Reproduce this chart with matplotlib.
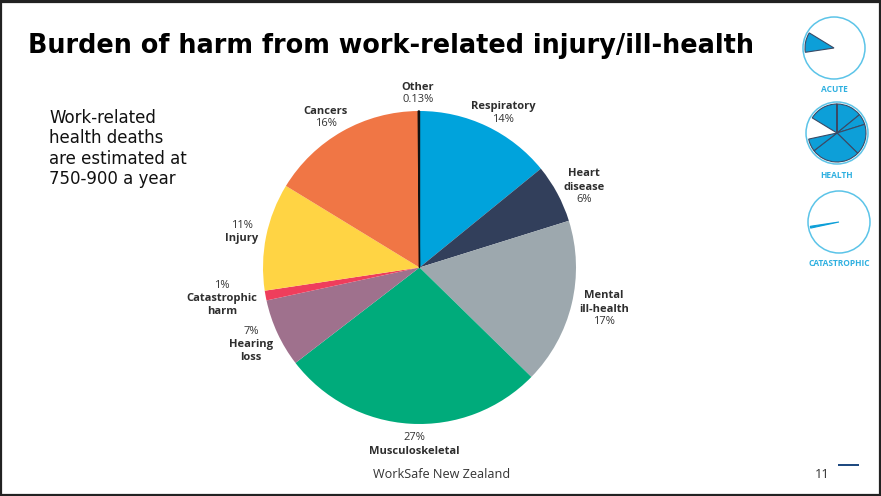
import matplotlib
matplotlib.use("Agg")
from matplotlib import pyplot as plt
from matplotlib.patches import Rectangle, Circle

W, H = 881, 496

# Shares as printed on the chart, clockwise from 12 o'clock
categories = ["Respiratory", "Heart disease", "Mental ill-health", "Musculoskeletal",
              "Hearing loss", "Catastrophic harm", "Injury", "Cancers", "Other"]
shares = [14, 6, 17, 27, 7, 1, 11, 16, 0.13]
colors = ["#00a3dc", "#323f5b", "#9da8ae", "#00ab7b", "#9f718d",
          "#ef3e5c", "#ffd444", "#f07645", "#111111"]

# Which categories each small icon fills in
icon_names = ["ACUTE", "HEALTH", "CATASTROPHIC"]
icon_fill = [["Injury"],
             ["Respiratory", "Heart disease", "Mental ill-health", "Musculoskeletal",
              "Hearing loss", "Cancers", "Other"],
             ["Catastrophic harm"]]

title = "Burden of harm from work-related injury/ill-health"
note = ["Work-related", "health deaths", "are estimated at", "750-900 a year"]
footer = "WorkSafe New Zealand"
page = "11"


def px_axes(fig, cx, cy, r):
    # axes square around a pixel centre
    return fig.add_axes([(cx - r) / W, 1 - (cy + r) / H, 2 * r / W, 2 * r / H])


fig = plt.figure(figsize=(W / 100, H / 100), dpi=100, facecolor="white")
bg = fig.add_axes([0, 0, 1, 1])
bg.set_xlim(0, W)
bg.set_ylim(H, 0)
bg.axis("off")

# slide frame, the top edge is heavier
bg.add_patch(Rectangle((0.5, 1.5), W - 1.5, H - 3, fill=False, edgecolor="#222222", linewidth=1.6))
bg.add_patch(Rectangle((0, 0), W, 3, facecolor="#222222", edgecolor="none"))

# main pie
ax = px_axes(fig, 419.5, 267.5, 156.5)
main_wedges, _ = ax.pie(shares, colors=colors, startangle=90, counterclock=False, radius=1,
                        wedgeprops={"linewidth": 0})
# the Other sliver is too thin to show without an edge
main_wedges[-1].set_edgecolor("#111111")
main_wedges[-1].set_linewidth(1.0)
ax.set_xlim(-1, 1)
ax.set_ylim(-1, 1)

bg.text(28, 46, title, fontsize=18.4, fontweight="bold", family="DejaVu Sans",
        color="black", va="center", ha="left")

for i, line in enumerate(note):
    bg.text(49, 118 + i * 20.3, line, fontsize=12, family="DejaVu Sans",
            color="#111111", va="center", ha="left")

LABEL = {"family": "Open Sans", "fontsize": 8, "color": "#333333", "ha": "center", "va": "center"}
BOLD = dict(LABEL, fontweight="bold", color="#2e2e2e")

labels = [
    (418, 87, "Other", True), (418, 100, "0.13%", False),
    (503, 106, "Respiratory", True), (503, 119, "14%", False),
    (584, 174, "Heart", True), (584, 187, "disease", True), (584, 200, "6%", False),
    (604, 296, "Mental", True), (604, 309, "ill-health", True), (604, 322, "17%", False),
    (414, 438, "27%", False), (414, 451, "Musculoskeletal", True),
    (251, 331, "7%", False), (251, 344, "Hearing", True), (251, 357, "loss", True),
    (222, 286, "1%", False), (222, 299, "Catastrophic", True), (222, 312, "harm", True),
    (242, 226, "11%", False), (242, 239, "Injury", True),
    (326, 111, "Cancers", True), (326, 124, "16%", False),
]
for x, y, s, strong in labels:
    bg.text(x, y, s, **(BOLD if strong else LABEL))

# footer
bg.text(442, 474, footer, fontsize=9.1, family="Open Sans", color="#333333", ha="center", va="center")
bg.text(822, 474, page, fontsize=9.1, family="Open Sans", color="#333333", ha="center", va="center")
bg.add_patch(Rectangle((838, 464), 21, 2, facecolor="#1f4a80", edgecolor="none"))

# small icons on the right
icon_xy = [(834, 48), (837, 133), (839, 222)]
icon_label_y = [90, 175, 263]
for name, fill, (cx, cy), ly in zip(icon_names, icon_fill, icon_xy, icon_label_y):
    a = px_axes(fig, cx, cy, 33)
    vals = []
    cols = []
    for cat, sh in zip(categories, shares):
        vals.append(sh)
        cols.append("#0d9fd8" if cat in fill else "none")
    wedges, _ = a.pie(vals, colors=cols, startangle=90, counterclock=False, radius=29,
                      wedgeprops={"linewidth": 0})
    for w, cat in zip(wedges, categories):
        if cat in fill and name != "CATASTROPHIC":
            w.set_edgecolor("#3a4a66")
            w.set_linewidth(0.8)
        elif cat in fill:
            w.set_edgecolor("#0d9fd8")
            w.set_linewidth(0.8)
    a.set_xlim(-33, 33)
    a.set_ylim(-33, 33)
    a.add_patch(Circle((0, 0), 31, fill=False, edgecolor="#5cc4e8", linewidth=1.1))
    bg.text(cx, ly, name, fontsize=6, fontweight="bold", family="Open Sans", color="#2fb0e0",
            ha="center", va="center")

plt.savefig("out.png", dpi=100)
